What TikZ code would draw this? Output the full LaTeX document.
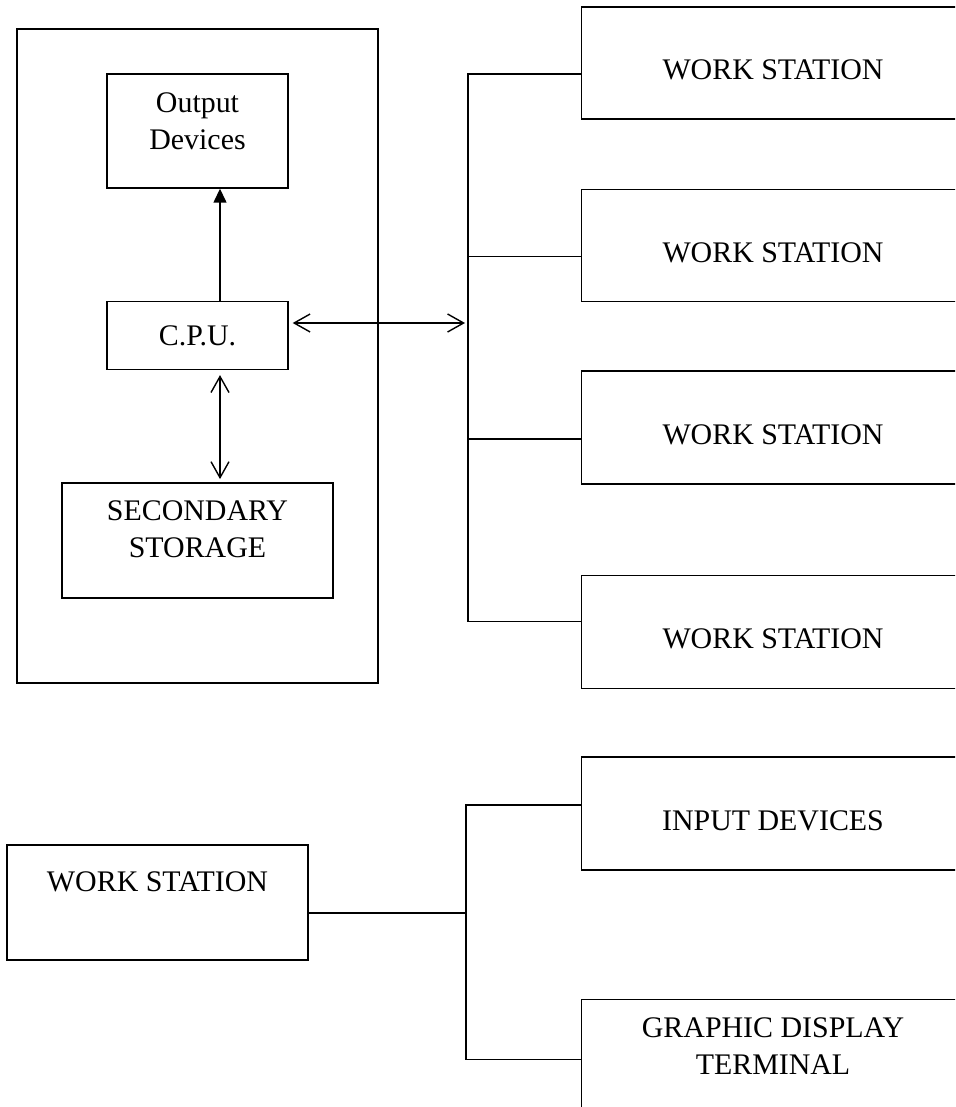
\documentclass[tikz,border=0pt]{standalone}
\usepackage{fontspec}
\setmainfont{Liberation Serif}
\usetikzlibrary{positioning, arrows.meta}

\begin{document}
\begin{tikzpicture}[x=1pt, y=-1pt, line width=1.4pt, node distance=112pt,
    every node/.style={font=\fontsize{29.9}{37}\selectfont, inner sep=0pt, align=center},
    block/.style={draw, minimum width=181pt},
    station/.style={draw, minimum width=383pt, minimum height=112pt, text height=34pt, text depth=0pt},
    barbs/.style={{Straight Barb[length=16pt,width=18pt]}-{Straight Barb[length=16pt,width=18pt]}}]
    \useasboundingbox (0,0) rectangle (955,1107);
    \clip (0,0) rectangle (955,1107);

    % Host computer
    \node[draw, minimum width=361pt, minimum height=654pt] (host) at (197.5,356) {};
    \node[block, minimum height=114pt, text depth=19pt] (out) at (197.5,131) {Output\\Devices};
    \node[block, minimum height=68pt, below=of out] (cpu) {C.P.U.};
    \node[draw, minimum width=271pt, minimum height=115pt, text depth=22pt, below=of cpu] (sec) {SECONDARY\\STORAGE};

    % Work stations
    \node[station] (ws1) at (773,63) {WORK STATION};
    \node[station, below=69pt of ws1] (ws2) {WORK STATION};
    \node[station, minimum height=113pt, below=68pt of ws2] (ws3) {WORK STATION};
    \node[station, minimum height=113pt, below=90pt of ws3] (ws4) {WORK STATION};

    % One work station
    \node[draw, minimum width=301pt, minimum height=115pt, text depth=41pt] (wsb) at (157.5,902.5) {WORK STATION};
    \node[station, minimum height=113pt] (inp) at (773,813.5) {INPUT DEVICES};
    \node[draw, minimum width=383pt, minimum height=120pt, text depth=27pt, below=128pt of inp] (gd) {GRAPHIC DISPLAY\\TERMINAL};

    \coordinate (bus) at (468,323);
    \coordinate (hub) at (466,913);

    % Arrows inside the host
    \draw[-{Triangle[length=14pt,width=13pt]}] ([xshift=22.5pt]cpu.north) -- ([xshift=22.5pt]out.south);
    \draw[barbs, shorten <=5pt, shorten >=3pt] ([xshift=22.5pt]cpu.south) -- ([xshift=22.5pt]sec.north);
    \draw[barbs, shorten <=4pt, shorten >=3pt] (cpu.east |- bus) -- (bus);

    % Bus wires
    \draw ([yshift=-11pt]ws1.west) -| (bus) |- ([yshift=10.5pt]ws4.west);
    \draw ([yshift=-11pt]ws2.west) -| (bus);
    \draw ([yshift=-11.5pt]ws3.west) -| (bus);
    \draw ([yshift=8.5pt]inp.west) -| (hub) |- (gd.west);
    \draw (wsb.east |- hub) -- (hub);
\end{tikzpicture}
\end{document}
